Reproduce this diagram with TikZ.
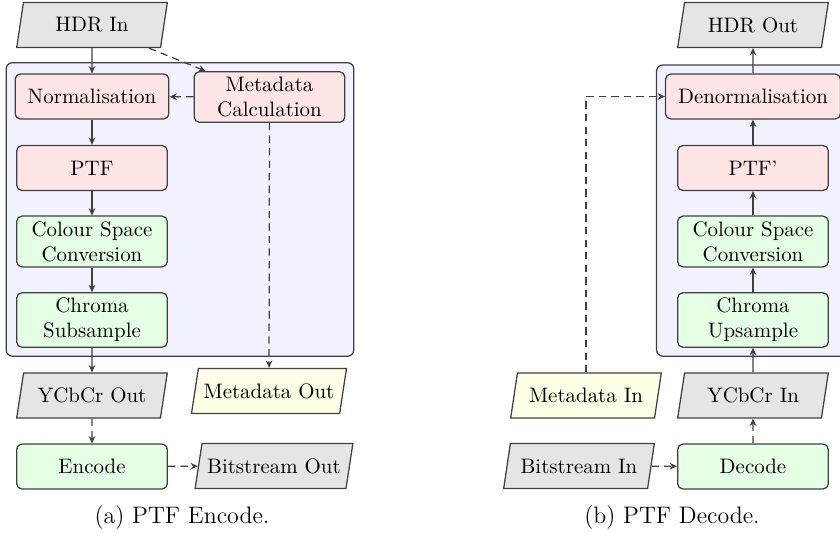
\documentclass[tikz,border=0pt]{standalone}
\usetikzlibrary{shapes.geometric,arrows.meta,fit,backgrounds}
\colorlet{box edge}{black!75}
\colorlet{group area}{blue!5}
\colorlet{io area}{gray!20}
\colorlet{meta area}{yellow!10}
\colorlet{light area}{red!10}
\colorlet{colour area}{green!10}
\tikzset{proc/.style={rectangle, rounded corners=2.5pt, draw=box edge, semithick,
		minimum width=72pt, minimum height=21.5pt, inner xsep=6pt, inner ysep=2.5pt,
		align=center},
	lightproc/.style={proc, fill=light area},
	colourproc/.style={proc, fill=colour area},
	io/.style={trapezium, trapezium left angle=75, trapezium right angle=105,
		trapezium stretches body, draw=box edge, semithick, fill=io area,
		minimum width=72pt, minimum height=21.5pt, inner sep=2.5pt},
	metaio/.style={io, fill=meta area},
	group/.style={rectangle, rounded corners=3pt, draw=box edge, semithick,
		fill=group area, inner sep=4pt},
	flow/.style={draw=box edge, semithick, -{Stealth[length=3.5pt,width=3.2pt]}},
	side/.style={flow, dash pattern=on 3.5pt off 2.5pt},
	caption/.style={font=\fontsize{11.4}{13}\selectfont}}

\begin{document}
\begin{tikzpicture}[x=0.478pt, y=0.478pt]
		\useasboundingbox (0,0) rectangle (840,-533);
		\clip (0,0) rectangle (840,-533);
		% encoder
		\node[io] (hdrin) at (92,-25) {HDR In};
		\node[lightproc] (norm) at (92,-96.5) {Normalisation};
		\node[lightproc] (meta) at (269.5,-97) {Metadata\\Calculation};
		\node[lightproc] (ptf) at (92,-168) {PTF};
		\node[colourproc] (csc) at (92,-241.5) {Colour Space\\Conversion};
		\node[colourproc] (chroma) at (92,-320) {Chroma\\Subsample};
		\node[io] (yout) at (92,-395.5) {YCbCr Out};
		\node[metaio] (mdout) at (269,-391) {Metadata Out};
		\node[colourproc] (enc) at (92,-466.5) {Encode};
		\node[io] (bsout) at (274,-466) {Bitstream Out};
		\node[caption] (capa) at (182,-518) {(a) PTF Encode.};
		
		% decoder
		\node[io] (hdrout) at (753,-25) {HDR Out};
		\node[lightproc] (denorm) at (753,-96.5) {Denormalisation};
		\node[lightproc] (iptf) at (753,-168) {PTF'};
		\node[colourproc] (icsc) at (753,-241.5) {Colour Space\\Conversion};
		\node[colourproc] (chromaup) at (753,-320) {Chroma\\Upsample};
		\node[io] (yin) at (753,-395.5) {YCbCr In};
		\node[metaio] (mdin) at (586,-395.5) {Metadata In};
		\node[colourproc] (dec) at (753,-466.5) {Decode};
		\node[io] (bsin) at (579,-466) {Bitstream In};
		\node[caption] (capb) at (672,-518) {(b) PTF Decode.};
		
		\begin{scope}[on background layer]
			\node[group, fit=(norm)(meta)(chroma)] (encgroup) {};
			\node[group, fit=(denorm)(chromaup)] (decgroup) {};
		\end{scope}
		
		\draw[flow] (hdrin) -- (norm);
		\draw[flow] (norm) -- (ptf);
		\draw[flow] (ptf) -- (csc);
		\draw[flow] (csc) -- (chroma);
		\draw[flow] (chroma) -- (yout);
		\draw[side] (hdrin) -- (meta);
		\draw[side] (meta) -- (norm);
		\draw[side] (meta) -- (mdout);
		\draw[side] (yout) -- (enc);
		\draw[side] (enc) -- (bsout);
		
		\draw[side] (bsin) -- (dec);
		\draw[side] (dec) -- (yin);
		\draw[flow] (yin) -- (chromaup);
		\draw[flow] (chromaup) -- (icsc);
		\draw[flow] (icsc) -- (iptf);
		\draw[flow] (iptf) -- (denorm);
		\draw[flow] (denorm) -- (hdrout);
		\draw[side] (mdin) |- (denorm);
		\end{tikzpicture}
\end{document}
